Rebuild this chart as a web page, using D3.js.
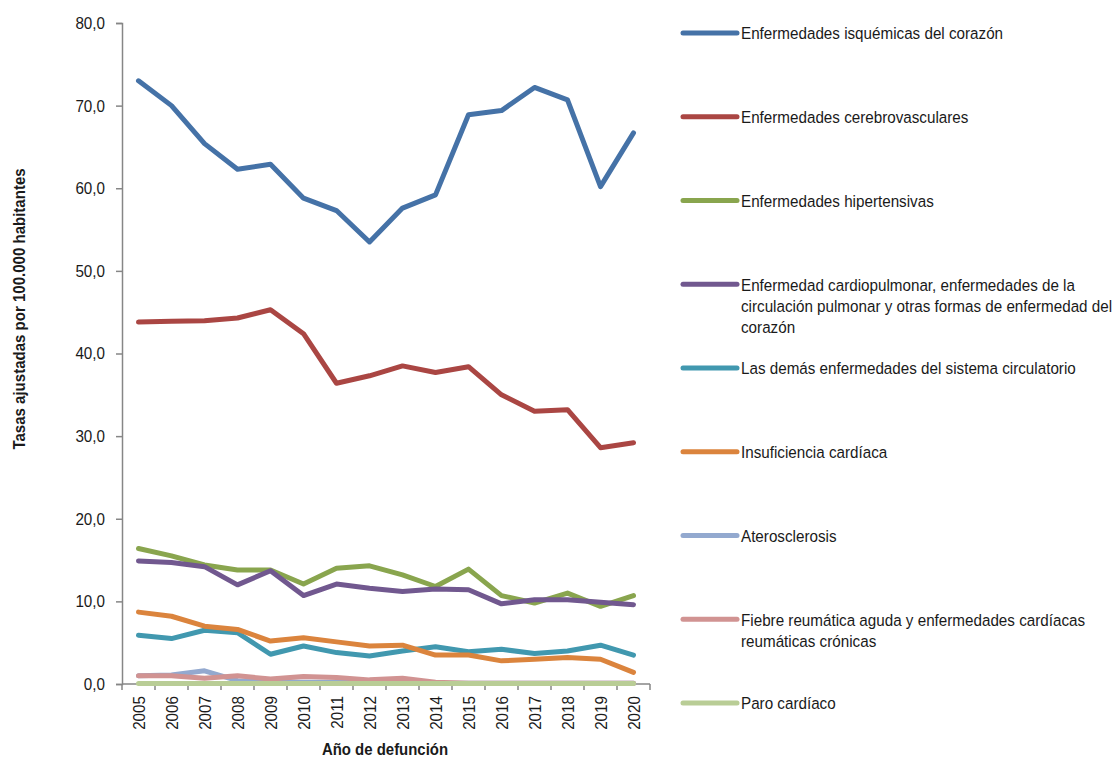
<!DOCTYPE html>
<html>
<head>
<meta charset="utf-8">
<script src="https://cdn.jsdelivr.net/npm/d3@7"></script>
<style>
  body { margin: 0; background: #fff; }
  svg text { font-family: "Liberation Sans", Arial, sans-serif; fill: #1a1a1a; }
</style>
</head>
<body>
<svg id="chart" width="1113" height="757"></svg>
<script>
const years = ["2005", "2006", "2007", "2008", "2009", "2010", "2011", "2012",
               "2013", "2014", "2015", "2016", "2017", "2018", "2019", "2020"]

const isquemicas = [73.0, 70.0, 65.4, 62.3, 62.9, 58.8, 57.3, 53.5, 57.6, 59.2, 68.9, 69.4, 72.2, 70.7, 60.2, 66.7]
const cerebrovasculares = [43.8, 43.9, 43.95, 44.3, 45.3, 42.4, 36.4, 37.3, 38.5, 37.7, 38.4, 35.0, 33.0, 33.2, 28.6, 29.2]
const hipertensivas = [16.4, 15.5, 14.4, 13.8, 13.8, 12.1, 14.0, 14.3, 13.2, 11.8, 13.9, 10.7, 9.8, 11.0, 9.4, 10.7]
const cardiopulmonar = [14.9, 14.7, 14.2, 12.0, 13.7, 10.7, 12.1, 11.6, 11.2, 11.5, 11.4, 9.7, 10.2, 10.2, 9.9, 9.6]
const demasCirculatorio = [5.9, 5.5, 6.5, 6.2, 3.6, 4.6, 3.8, 3.4, 4.0, 4.5, 3.9, 4.2, 3.7, 4.0, 4.7, 3.5]
const insuficiencia = [8.7, 8.2, 7.0, 6.6, 5.2, 5.6, 5.1, 4.6, 4.7, 3.5, 3.5, 2.8, 3.0, 3.2, 3.0, 1.4]
const aterosclerosis = [1.0, 1.1, 1.6, 0.4, 0.3, 0.2, 0.2, 0.2, 0.2, 0.1, 0.1, 0.1, 0.1, 0.1, 0.1, 0.1]
const fiebreReumatica = [1.0, 1.0, 0.7, 1.0, 0.6, 0.9, 0.8, 0.5, 0.7, 0.2, 0.1, 0.1, 0.1, 0.1, 0.1, 0.1]
const paroCardiaco = [0.05, 0.05, 0.05, 0.05, 0.05, 0.05, 0.05, 0.05, 0.05, 0.05, 0.05, 0.05, 0.05, 0.05, 0.05, 0.05]

const yTicks = [0, 10, 20, 30, 40, 50, 60, 70, 80]

const series = [
    {name: ["Enfermedades isquémicas del corazón"], values: isquemicas, color: "#4572A7"},
    {name: ["Enfermedades cerebrovasculares"], values: cerebrovasculares, color: "#AA4643"},
    {name: ["Enfermedades hipertensivas"], values: hipertensivas, color: "#89A54E"},
    {name: ["Enfermedad cardiopulmonar, enfermedades de la",
            "circulación pulmonar y otras formas de enfermedad del",
            "corazón"], values: cardiopulmonar, color: "#71588F"},
    {name: ["Las demás enfermedades del sistema circulatorio"], values: demasCirculatorio, color: "#4198AF"},
    {name: ["Insuficiencia cardíaca"], values: insuficiencia, color: "#DB843D"},
    {name: ["Aterosclerosis"], values: aterosclerosis, color: "#93A9CF"},
    {name: ["Fiebre reumática aguda y enfermedades cardíacas",
            "reumáticas crónicas"], values: fiebreReumatica, color: "#D19392"},
    {name: ["Paro cardíaco"], values: paroCardiaco, color: "#B9CD96"},
]

const svg = d3.select("#chart")
const plotLeft = 122, plotRight = 650, plotTop = 23, plotBottom = 684
const axisColor = "#868686"
const narrow = 0.895   // the original uses a condensed face; squeeze the glyphs

const x = d3.scaleBand().domain(years).range([plotLeft, plotRight])
const y = d3.scaleLinear().domain([0, 80]).range([plotBottom, plotTop])
const fmt = v => d3.format(".1f")(v).replace(".", ",")

// y axis
const yAxis = svg.append("g")
    .attr("transform", `translate(${plotLeft},0)`)
    .call(d3.axisLeft(y).tickValues(yTicks).tickFormat(fmt).tickSize(6))
yAxis.attr("font-family", null).attr("font-size", null)
yAxis.select(".domain").attr("stroke", axisColor).attr("stroke-width", 1.5)
yAxis.selectAll(".tick line").attr("stroke", axisColor).attr("stroke-width", 1.5)
yAxis.selectAll(".tick text")
    .attr("x", 0)
    .attr("transform", `translate(-17,0) scale(${narrow},1)`)
    .attr("font-size", 17).attr("fill", "#1a1a1a")

// x axis (ticks between categories)
const xg = svg.append("g")
xg.append("line")
    .attr("x1", plotLeft).attr("x2", plotRight).attr("y1", plotBottom).attr("y2", plotBottom)
    .attr("stroke", axisColor).attr("stroke-width", 1.5)
const bounds = years.map(d => x(d)).concat([x.range()[1]])
xg.selectAll("line.tk").data(bounds).join("line").attr("class", "tk")
    .attr("x1", d => d).attr("x2", d => d).attr("y1", plotBottom).attr("y2", plotBottom + 6)
    .attr("stroke", axisColor).attr("stroke-width", 1.5)
xg.selectAll("text").data(years).join("text")
    .attr("transform", d => `translate(${x(d) + x.bandwidth() / 2},${plotBottom + 12}) rotate(-90) scale(${narrow},1)`)
    .attr("text-anchor", "end")
    .attr("dominant-baseline", "central")
    .attr("font-size", 17)
    .text(d => d)

// axis titles
svg.append("text")
    .attr("transform", `translate(19,309) rotate(-90) scale(0.94,1)`)
    .attr("text-anchor", "middle")
    .attr("dominant-baseline", "central")
    .attr("font-size", 16).attr("font-weight", "bold")
    .text("Tasas ajustadas por 100.000 habitantes")
svg.append("text")
    .attr("transform", `translate(385,749) scale(0.935,1)`)
    .attr("text-anchor", "middle")
    .attr("dominant-baseline", "central")
    .attr("font-size", 16).attr("font-weight", "bold")
    .text("Año de defunción")

// lines, in series order (later series sit on top)
const line = d3.line()
    .x((d, i) => x(years[i]) + x.bandwidth() / 2)
    .y(d => y(d))
svg.append("g").selectAll("path")
    .data(series)
    .join("path")
    .attr("d", d => line(d.values))
    .attr("fill", "none")
    .attr("stroke", d => d.color)
    .attr("stroke-width", 5)
    .attr("stroke-linejoin", "round")
    .attr("stroke-linecap", "round")

// legend
const legendY = d3.scalePoint().domain(series.map((d, i) => i)).range([33, 703])
const legend = svg.append("g").selectAll("g")
    .data(series)
    .join("g")
    .attr("transform", (d, i) => `translate(683,${legendY(i)})`)
legend.append("line")
    .attr("x1", 0).attr("x2", 54).attr("y1", 0).attr("y2", 0)
    .attr("stroke", d => d.color).attr("stroke-width", 5).attr("stroke-linecap", "round")
legend.each(function(d) {
    const t = d3.select(this).append("text")
        .attr("transform", `translate(58,0) scale(${narrow},1)`)
        .attr("font-size", 17)
        .attr("dominant-baseline", "central")
    d.name.forEach((ln, j) => {
        t.append("tspan").attr("x", 0).attr("y", j * 21).text(ln)
    })
})
</script>
</body>
</html>
